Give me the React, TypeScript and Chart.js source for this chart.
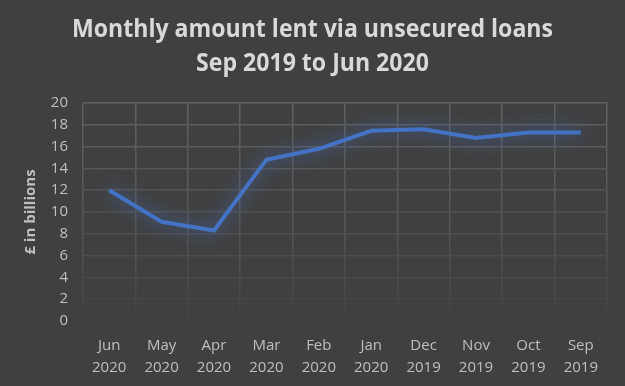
import React, { useEffect, useRef } from "react";
import { Chart, registerables } from "chart.js";

Chart.register(...registerables);

const months = ["Jun", "May", "Apr", "Mar", "Feb", "Jan", "Dec", "Nov", "Oct", "Sep"];
const years = ["2020", "2020", "2020", "2020", "2020", "2020", "2019", "2019", "2019", "2019"];
const amountLent = [12.0, 9.1, 8.3, 14.8, 15.8, 17.45, 17.6, 16.8, 17.3, 17.3];
const titleLines = ["Monthly amount lent via unsecured loans", "Sep 2019 to Jun 2020"];
const yAxisTitle = "£ in billions";

const glowPlugin = {
  id: "glow",
  beforeDatasetDraw(chart: any) {
    const ctx = chart.ctx;
    ctx.save();
    ctx.shadowColor = "rgba(68,114,196,1)";
    ctx.shadowBlur = 18;
  },
  afterDatasetDraw(chart: any) {
    chart.ctx.restore();
  },
};

const titlePlugin = {
  id: "offsetTitle",
  afterDraw(chart: any) {
    const ctx = chart.ctx;
    ctx.save();
    ctx.fillStyle = "#d9d9d9";
    ctx.font = "bold 25px 'Open Sans'";
    ctx.textAlign = "center";
    ctx.textBaseline = "alphabetic";
    const w = ctx.measureText(titleLines[0]).width;
    const sx = w > 0 ? 481 / w : 1;
    const cx = 312.5;
    const baselines = [37, 71];
    titleLines.forEach((line, i) => {
      ctx.save();
      ctx.translate(cx, baselines[i]);
      ctx.scale(sx, 1);
      ctx.fillText(line, 0, 0);
      ctx.restore();
    });
    ctx.restore();
  },
};

function gridGradient(context: any) {
  const chart = context.chart;
  const area = chart.chartArea;
  if (!area) return "#5a5a5a";
  const g = chart.ctx.createLinearGradient(0, area.top, 0, area.bottom);
  g.addColorStop(0, "#606060");
  g.addColorStop(0.6, "#555555");
  g.addColorStop(1, "#414141");
  return g;
}

function hGridColor(context: any) {
  const v = context.tick ? context.tick.value : 0;
  const t = v / 20;
  const c = Math.round(0x43 + (0x60 - 0x43) * t);
  return `rgb(${c},${c},${c})`;
}

export default function App() {
  const ref = useRef<HTMLCanvasElement | null>(null);
  useEffect(() => {
    if (!ref.current) return;
    const labels = months.map((m, i) => [m, years[i]]);
    const chart = new Chart(ref.current, {
      type: "line",
      data: {
        labels,
        datasets: [
          {
            data: amountLent,
            borderColor: "#4472C4",
            borderWidth: 4,
            pointRadius: 0,
            tension: 0,
            fill: false,
          },
        ],
      },
      options: {
        animation: false,
        responsive: true,
        maintainAspectRatio: false,
        layout: { padding: { left: 0, right: 18, top: 103, bottom: 0 } },
        plugins: {
          legend: { display: false },
          tooltip: { enabled: false },
          title: { display: false },
        },
        scales: {
          x: {
            offset: true,
            grid: { offset: true, color: gridGradient, lineWidth: 1.5, drawTicks: false },
            border: { display: false },
            ticks: {
              color: "#bfbfbf",
              font: { family: "'Open Sans'", size: 15, lineHeight: 1.5 },
              padding: 13,
              maxRotation: 0,
              autoSkip: false,
            },
            afterFit(scale: any) {
              scale.height = 65;
            },
          },
          y: {
            min: 0,
            max: 20,
            ticks: {
              stepSize: 2,
              color: "#bfbfbf",
              font: { family: "'Open Sans'", size: 15 },
              padding: 15,
            },
            grid: { color: hGridColor, lineWidth: 1.5, drawTicks: false },
            border: { display: false },
            title: {
              display: true,
              text: yAxisTitle,
              color: "#bfbfbf",
              font: { family: "'Open Sans'", size: 15, weight: "bold" },
              padding: { top: 22, bottom: 0 },
            },
            afterFit(scale: any) {
              scale.width = 83;
            },
          },
        },
      },
      plugins: [glowPlugin, titlePlugin],
    });
    return () => chart.destroy();
  }, []);
  return (
    <div
      style={{
        position: "absolute",
        left: 0,
        top: 0,
        width: 625,
        height: 386,
        background: "#404040",
      }}
    >
      <canvas ref={ref} />
    </div>
  );
}
